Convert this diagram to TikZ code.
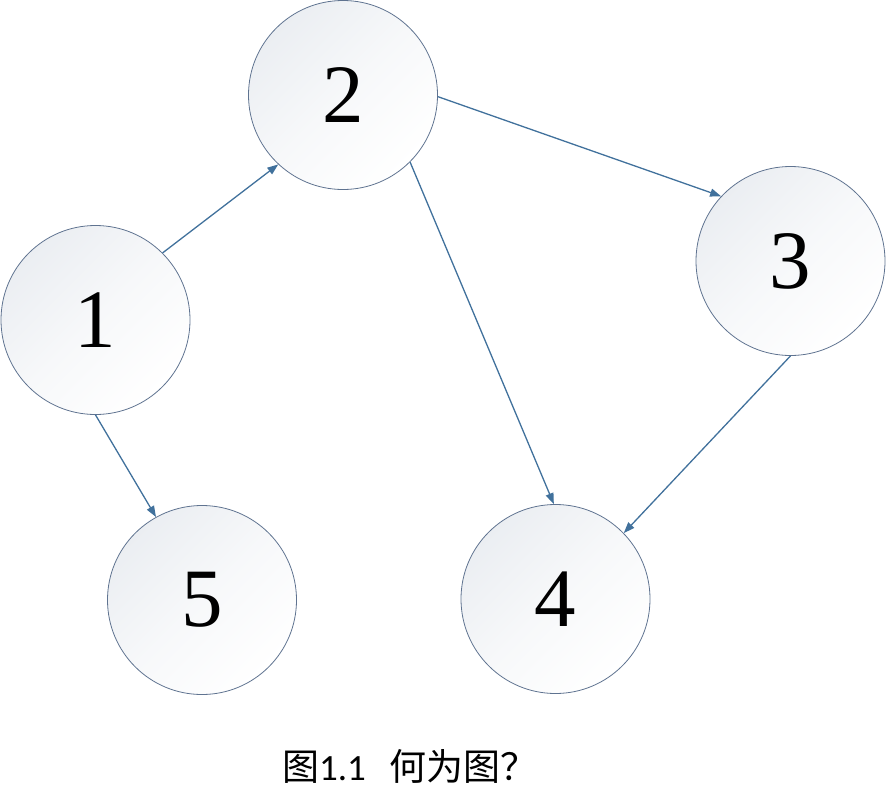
\documentclass[tikz,border=0pt]{standalone}
\usepackage{fontspec}
\setmainfont{Liberation Serif}
\newfontfamily\cjkfont{Noto Sans CJK SC}
\newfontfamily\capfont{Carlito}
\usetikzlibrary{arrows.meta}
\definecolor{edgeblue}{HTML}{41719C}
\definecolor{ringcol}{HTML}{5F7390}
\definecolor{shadegray}{HTML}{EBEEF2}
\tikzset{
  vtx/.style={circle, draw=ringcol, line width=0.8pt, minimum size=189pt, inner sep=0pt,
    top color=shadegray, bottom color=white, middle color=white!60!shadegray, shading angle=45,
    font=\fontsize{83}{83}\selectfont},
  arr/.style={draw=edgeblue, line width=1.3pt, -{Triangle[length=11pt,width=8pt]}}
}
\begin{document}
\begin{tikzpicture}[x=1pt,y=-1pt]
\useasboundingbox (0,0) rectangle (887,811);
\node[vtx] (n1) at (95.5,320) {1};
\node[vtx] (n2) at (343,95) {2};
\node[vtx] (n3) at (790.5,261) {3};
\node[vtx] (n4) at (555.5,599) {4};
\node[vtx] (n5) at (202,600) {5};
\draw[arr] (n1.45) -- (n2.227);
\draw[arr] (n1.270) -- (n5.119);
\draw[arr] (n2.359) -- (n3.137);
\draw[arr] (n2.315) -- (n4.91);
\draw[arr] (n3.270) -- (n4.44);
\node (cap) at (410,766) {\fontsize{37}{37}\selectfont\cjkfont 图\capfont 1.1\kern24pt\cjkfont 何为图？};
\end{tikzpicture}
\end{document}
